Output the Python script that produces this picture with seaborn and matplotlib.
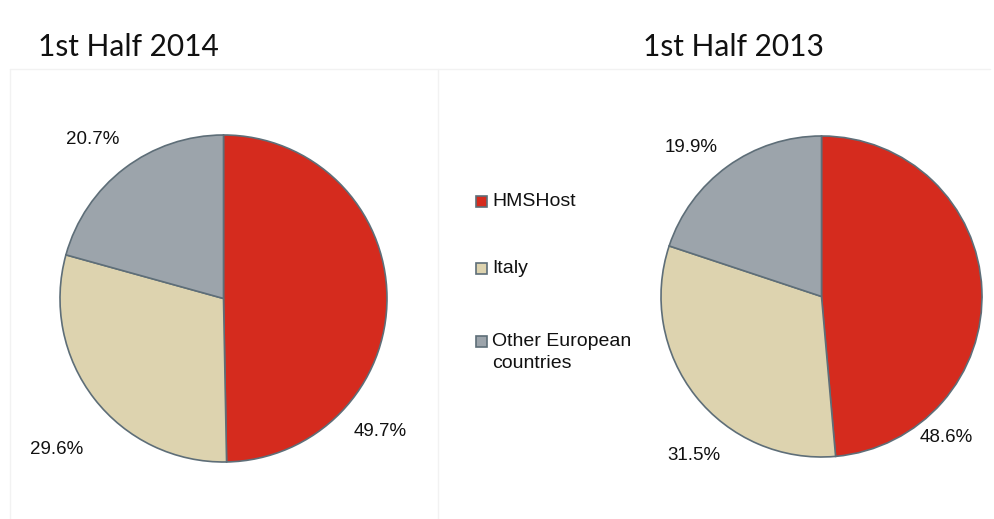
import matplotlib
matplotlib.use("Agg")
import matplotlib.pyplot as plt
import seaborn as sns
from matplotlib.lines import Line2D
from matplotlib.patches import Rectangle

sns.set_theme(style="white")
plt.rcParams['font.family'] = ['Liberation Sans', 'DejaVu Sans']

categories = ["HMSHost", "Italy", "Other European\ncountries"]
titles = ["1st Half 2014", "1st Half 2013"]
values_2014 = [49.7, 29.6, 20.7]
values_2013 = [48.6, 31.5, 19.9]
labels_2014 = ["49.7%", "29.6%", "20.7%"]
labels_2013 = ["48.6%", "31.5%", "19.9%"]

colors = ["#D52B1E", "#DDD3AF", "#9CA4AB"]
edge = "#5E6E78"

W, H = 995, 519
fig = plt.figure(figsize=(W / 100, H / 100), dpi=100)
fig.patch.set_facecolor("white")

def add_pie(cx, cy, r, values, labels, label_pos):
    ax = fig.add_axes([(cx - r) / W, (H - cy - r) / H, 2 * r / W, 2 * r / H])
    ax.pie(values, colors=colors, startangle=90, counterclock=False,
           radius=1, wedgeprops=dict(edgecolor=edge, linewidth=1.2))
    ax.set_xlim(-1, 1)
    ax.set_ylim(-1, 1)
    ax.axis("off")
    for lab, (px, py) in zip(labels, label_pos):
        fig.text(px / W, 1 - py / H, lab, ha="center", va="center",
                 fontsize=13.5, color="#111111")
    return ax

add_pie(223.5, 298.5, 163.5, values_2014, labels_2014,
        [(380, 432), (57, 450), (93, 140)])
add_pie(821.5, 296.5, 160.5, values_2013, labels_2013,
        [(946, 438), (694, 455), (691, 147)])

# titles
for t, x in zip(titles, [38, 643]):
    fig.text(x / W, 1 - 47 / H, t, ha="left", va="center", fontsize=21.5,
             family=["Lato", "DejaVu Sans"], color="#111111")

# faint panel borders
lc = "#F2F2F2"
fig.add_artist(Line2D([10 / W, 990 / W], [1 - 69 / H, 1 - 69 / H], color=lc, lw=1))
fig.add_artist(Line2D([10 / W, 10 / W], [0, 1 - 69 / H], color=lc, lw=1))
fig.add_artist(Line2D([438 / W, 438 / W], [0, 1 - 69 / H], color=lc, lw=1))

# legend (drawn manually so the swatch aligns with the first text line)
legend_rows = [201, 268, 341]
for c, lab, y in zip(colors, categories, legend_rows):
    s = 11
    fig.add_artist(Rectangle(((476) / W, 1 - (y + s / 2) / H), s / W, s / H,
                             facecolor=c, edgecolor=edge, linewidth=1.2,
                             transform=fig.transFigure))
    fig.text(492 / W, 1 - (y - 8) / H, lab, ha="left", va="top",
             fontsize=14, color="#111111", linespacing=1.4)

fig.savefig("out.png", dpi=100, facecolor="white")
